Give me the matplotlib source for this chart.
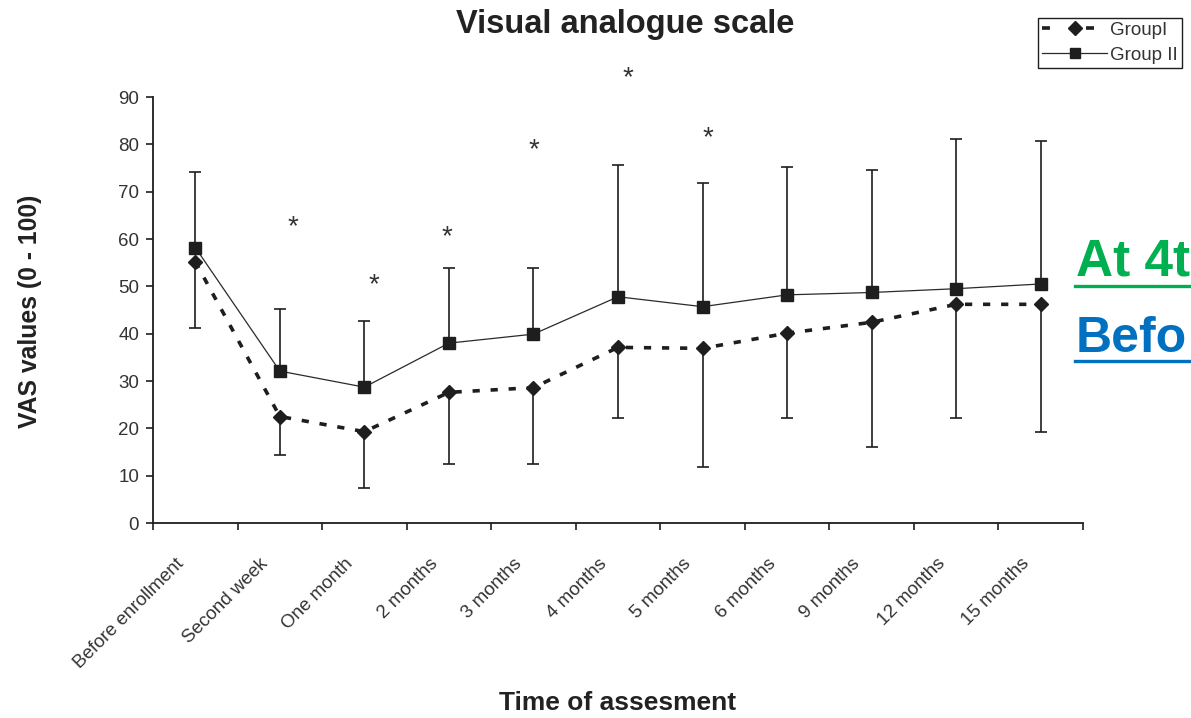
import matplotlib
matplotlib.use("Agg")
import matplotlib.pyplot as plt
import matplotlib.transforms as mtransforms
from matplotlib.lines import Line2D

plt.rcParams["font.family"] = ["Liberation Sans", "DejaVu Sans"]

categories = ["Before enrollment", "Second week", "One month", "2 months", "3 months",
              "4 months", "5 months", "6 months", "9 months", "12 months", "15 months"]

# Group I: mean VAS and lower end of its error bar
group1_mean = [55.2, 22.5, 19.3, 27.6, 28.6, 37.1, 36.9, 40.1, 42.4, 46.2, 46.2]
group1_lower = [41.2, 14.4, 7.5, 12.5, 12.5, 22.1, 11.8, 22.1, 16.1, 22.1, 19.3]

# Group II: mean VAS and upper end of its error bar
group2_mean = [58.2, 32.1, 28.7, 38.0, 39.9, 47.8, 45.7, 48.2, 48.7, 49.5, 50.5]
group2_upper = [74.1, 45.2, 42.7, 53.8, 53.8, 75.7, 71.9, 75.3, 74.6, 81.2, 80.6]

# significance asterisks (x in category units, y in VAS units)
star_x = [1.65, 2.61, 3.48, 4.50, 5.62, 6.56]
star_y = [63.5, 51.3, 61.4, 79.9, 95.0, 82.3]

W, H = 1191, 718
fig = plt.figure(figsize=(W / 100, H / 100), dpi=100)
ax = fig.add_axes([153 / W, 1 - 523 / H, (1083 - 153) / W, (523 - 97) / H])

ink = "#1e1e1e"
xpos = [i + 0.5 for i in range(len(categories))]

g1_err = [[m - lo for m, lo in zip(group1_mean, group1_lower)], [0] * len(group1_mean)]
g2_err = [[0] * len(group2_mean), [hi - m for m, hi in zip(group2_mean, group2_upper)]]

ax.errorbar(xpos, group2_mean, yerr=g2_err, fmt="none", ecolor=ink, elinewidth=1.2,
            capsize=4, capthick=1.2, zorder=2)
ax.errorbar(xpos, group1_mean, yerr=g1_err, fmt="none", ecolor=ink, elinewidth=1.2,
            capsize=4, capthick=1.2, zorder=2)

l2, = ax.plot(xpos, group2_mean, color="#2a2a2a", lw=0.9, marker="s", ms=8,
              mfc=ink, mec=ink, zorder=3)
l1, = ax.plot(xpos, group1_mean, color=ink, lw=2.6, ls=(0, (2.0, 3.0)), marker="D",
              ms=7.5, mfc=ink, mec=ink, zorder=4)

star_shift = ax.transData + mtransforms.ScaledTranslation(0, -5 / 100, fig.dpi_scale_trans)
for sx, sy in zip(star_x, star_y):
    ax.text(sx, sy, "*", ha="center", va="center", fontsize=20, color="#333333",
            clip_on=False, transform=star_shift)

ax.set_xlim(0, len(categories))
ax.set_ylim(0, 90)
ax.set_yticks(range(0, 91, 10))
ax.set_xticks(range(len(categories) + 1))
ax.set_xticklabels([])
ax.set_xticks(xpos, minor=True)
ax.set_xticklabels(categories, minor=True, rotation=45, ha="right",
                   rotation_mode="anchor", fontsize=13.5, color="#333333")
ax.tick_params(axis="x", which="minor", length=0, pad=10)
ax.tick_params(axis="x", which="major", length=5, width=1.2, color=ink)
ax.tick_params(axis="y", length=5, width=1.2, color=ink, labelsize=13.5,
               labelcolor="#333333", pad=5)

label_shift = mtransforms.ScaledTranslation(-20 / 100, -18 / 100, fig.dpi_scale_trans)
for lbl in ax.get_xticklabels(minor=True):
    lbl.set_transform(lbl.get_transform() + label_shift)

for side in ("top", "right"):
    ax.spines[side].set_visible(False)
for side in ("left", "bottom"):
    ax.spines[side].set_color(ink)
    ax.spines[side].set_linewidth(1.3)

fig.text(625 / W, 1 - 33 / H, "Visual analogue scale", ha="center", va="baseline",
         fontsize=23.5, fontweight="bold", color="#222222")
fig.text(618 / W, 1 - 703 / H, "Time of assesment", ha="center", va="center",
         fontsize=19, fontweight="bold", color="#222222")
fig.text(30 / W, 1 - 311 / H, "VAS values (0 - 100)", ha="center", va="center",
         rotation=90, fontsize=17.8, fontweight="bold", color="#222222")

h1 = Line2D([], [], color=ink, lw=2.6, ls=(0, (2.2, 10.0)), marker="D", ms=7, mfc=ink, mec=ink)
h2 = Line2D([], [], color="#2a2a2a", lw=0.9, marker="s", ms=7, mfc=ink, mec=ink)
leg = fig.legend([h1, h2], ["GroupI", "Group II"], loc="upper left",
                 bbox_to_anchor=(1038 / W, 1 - 18 / H), fontsize=13.5, frameon=True,
                 fancybox=False, edgecolor=ink, framealpha=1, handlelength=3.5,
                 handletextpad=0.15, borderpad=0.2, labelspacing=0.42, borderaxespad=0)
leg.get_frame().set_linewidth(1.0)
for t in leg.get_texts():
    t.set_color("#333333")

# cropped slide captions along the right edge
green, blue = "#00B050", "#0070C0"
fig.text(1076 / W, 1 - 275 / H, "At 4t", ha="left", va="baseline", fontsize=37,
         fontweight="bold", color=green)
fig.add_artist(Line2D([1075 / W, 1.0], [1 - 286 / H] * 2, color=green, lw=2.4,
                      transform=fig.transFigure))
fig.text(1076 / W, 1 - 352 / H, "Befo", ha="left", va="baseline", fontsize=36,
         fontweight="bold", color=blue)
fig.add_artist(Line2D([1075 / W, 1.0], [1 - 361 / H] * 2, color=blue, lw=2.4,
                      transform=fig.transFigure))

fig.savefig("out.png", dpi=100)
